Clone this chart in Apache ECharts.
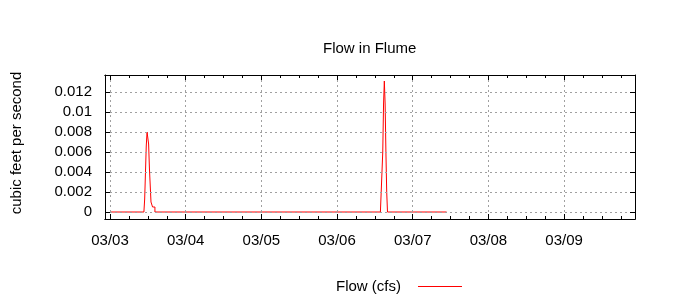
<!DOCTYPE html>
<html>
<head>
<meta charset="utf-8">
<script src="https://cdn.jsdelivr.net/npm/echarts@6/dist/echarts.min.js"></script>
<style>
html,body{margin:0;padding:0;background:#fff;}
#chart{width:700px;height:300px;}
</style>
</head>
<body>
<div id="chart"></div>
<script>
// ---- data ----
const titleText = "Flow in Flume";
const yAxisTitle = "cubic feet per second";
const seriesName = "Flow (cfs)";
const times = [
  "03/03 00:00", "03/03 10:45",
  "03/03 11:00", "03/03 11:15", "03/03 11:30", "03/03 11:45", "03/03 12:00",
  "03/03 12:15", "03/03 12:30", "03/03 12:45", "03/03 13:00", "03/03 13:15",
  "03/03 13:30", "03/03 13:45", "03/03 14:00", "03/03 14:15",
  "03/06 13:45",
  "03/06 14:00", "03/06 14:15", "03/06 14:30", "03/06 14:45", "03/06 15:00",
  "03/06 15:15", "03/06 15:30", "03/06 15:45", "03/06 16:00",
  "03/07 10:45"
];
const flow = [
  0, 0,
  0.0013, 0.0013, 0.0066, 0.0080, 0.0080,
  0.0068, 0.0044, 0.0044, 0.0010, 0.0010,
  0.0005, 0.0005, 0.0005, 0,
  0,
  0.0020, 0.0020, 0.0060, 0.0108, 0.0131,
  0.0108, 0.0060, 0.0020, 0,
  0
];
const xTickDays = [0, 1, 2, 3, 4, 5, 6];
const xTickLabels = ["03/03", "03/04", "03/05", "03/06", "03/07", "03/08", "03/09"];
const yTicks = [0, 0.002, 0.004, 0.006, 0.008, 0.01, 0.012];
const yTickLabels = ["0", "0.002", "0.004", "0.006", "0.008", "0.01", "0.012"];

// ---- build ----
function toDays(s) {
  const [md, hm] = s.split(" ");
  const [m, d] = md.split("/").map(Number);
  const [h, mi] = hm.split(":").map(Number);
  return (d - 3) + h / 24 + mi / 1440;
}
const seriesData = times.map((t, i) => [toDays(t), flow[i]]);
const minorTicks = [];
for (let q = 0.25; q < 6.9; q += 0.25) minorTicks.push(q);

const FONT = "'Liberation Sans', Arial, Helvetica, sans-serif";
const RED = '#ff0000';
const xMin = -0.066, xMax = 6.937;
const yMin = -0.0007, yMax = 0.0137;
const gridLine = { show: true, lineStyle: { color: '#a0a0a0', type: [2, 3], width: 1 } };

function xAx(pos, major, labels) {
  return {
    type: 'value', gridIndex: 0, position: pos, min: xMin, max: xMax, z: 3,
    axisLine: { show: true, onZero: false, lineStyle: { color: '#000', width: 1 } },
    axisTick: { show: true, inside: true, length: major ? 5 : 3,
      customValues: major ? xTickDays : minorTicks, lineStyle: { color: '#000' } },
    axisLabel: labels ? {
      show: true, customValues: xTickDays, margin: 14, color: '#000',
      fontFamily: FONT, fontSize: 15,
      formatter: v => xTickLabels[xTickDays.indexOf(Math.round(v))] || ''
    } : { show: false },
    splitLine: (major && labels) ? gridLine : { show: false }
  };
}
function yAx(pos, labels) {
  return {
    type: 'value', gridIndex: 0, position: pos, min: yMin, max: yMax, z: 3,
    axisLine: { show: true, onZero: false, lineStyle: { color: '#000', width: 1 } },
    axisTick: { show: true, inside: true, length: 5, customValues: yTicks, lineStyle: { color: '#000' } },
    axisLabel: labels ? {
      show: true, customValues: yTicks, margin: 13, color: '#000',
      fontFamily: FONT, fontSize: 15,
      formatter: v => { const i = yTicks.findIndex(t => Math.abs(t - v) < 1e-9); return i >= 0 ? yTickLabels[i] : ''; }
    } : { show: false },
    splitLine: labels ? gridLine : { show: false }
  };
}

const chart = echarts.init(document.getElementById('chart'), null, { renderer: 'canvas' });
chart.setOption({
  animation: false,
  backgroundColor: '#fff',
  color: [RED],
  title: {
    text: titleText, left: 318, top: 36,
    textStyle: { fontFamily: FONT, fontSize: 15, fontWeight: 'normal', color: '#000' }
  },
  legend: {
    data: [seriesName], left: 336, top: 279, align: 'right', padding: 0,
    itemWidth: 44, itemHeight: 14,
    lineStyle: { color: RED, width: 1 },
    itemStyle: { color: 'rgba(0,0,0,0)', borderColor: 'rgba(0,0,0,0)', borderWidth: 0 },
    textStyle: { fontFamily: FONT, fontSize: 15, color: '#000', padding: [0, 12, 0, 0] }
  },
  grid: { left: 105, right: 65, top: 75, bottom: 81, containLabel: false },
  xAxis: [xAx('bottom', true, true), xAx('bottom', false, false), xAx('top', true, false), xAx('top', false, false)],
  yAxis: [yAx('left', true), yAx('right', false)],
  graphic: [{
    type: 'text', rotation: Math.PI / 2, x: 17, y: 143,
    style: { text: yAxisTitle, fontFamily: FONT, fontSize: 15, fill: '#000', align: 'center', verticalAlign: 'middle' }
  }],
  series: [{
    name: seriesName, type: 'line', xAxisIndex: 0, yAxisIndex: 0,
    data: seriesData, step: 'end', showSymbol: false, symbol: 'none', z: 2,
    lineStyle: { color: RED, width: 1 }, itemStyle: { color: RED }
  }]
});
</script>
</body>
</html>
